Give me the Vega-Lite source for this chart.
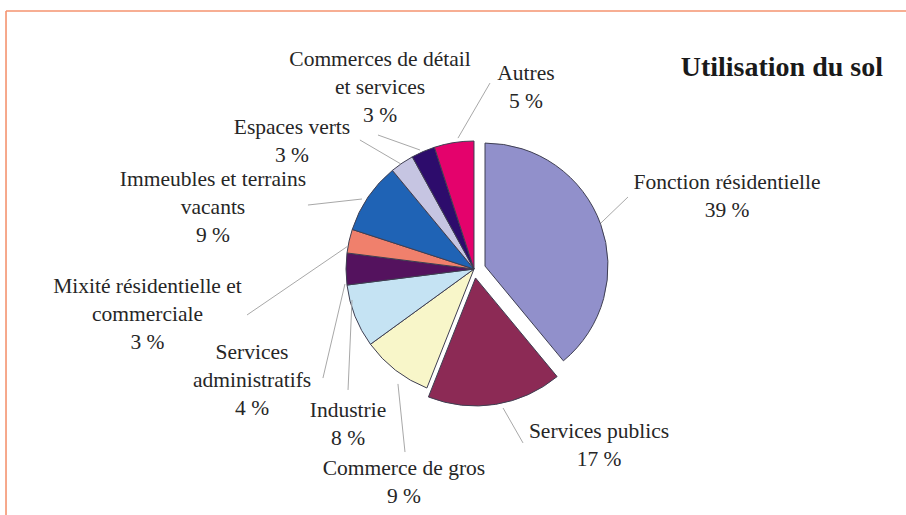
{
  "$schema": "https://vega.github.io/schema/vega-lite/v6.json",
  "width": 906,
  "height": 515,
  "autosize": {"type": "none"},
  "padding": 0,
  "background": "white",
  "config": {
    "view": {"stroke": null},
    "axis": {"disable": true},
    "text": {"font": "Liberation Serif", "fontSize": 21.5, "lineHeight": 28, "align": "center", "baseline": "alphabetic", "color": "#262626"},
    "rule": {"color": "#a8a8a8", "strokeWidth": 1},
    "arc": {"outerRadius": 128, "stroke": "#3f3f52", "strokeWidth": 1}
  },
  "data": {"values": [
    {"id": 1, "category": "Fonction résidentielle", "value": 39, "lines": ["Fonction résidentielle", "39 %"]},
    {"id": 2, "category": "Services publics", "value": 17, "lines": ["Services publics", "17 %"]},
    {"id": 3, "category": "Commerce de gros", "value": 9, "lines": ["Commerce de gros", "9 %"]},
    {"id": 4, "category": "Industrie", "value": 8, "lines": ["Industrie", "8 %"]},
    {"id": 5, "category": "Services administratifs", "value": 4, "lines": ["Services", "administratifs", "4 %"]},
    {"id": 6, "category": "Mixité résidentielle et commerciale", "value": 3, "lines": ["Mixité résidentielle et", "commerciale", "3 %"]},
    {"id": 7, "category": "Immeubles et terrains vacants", "value": 9, "lines": ["Immeubles et terrains", "vacants", "9 %"]},
    {"id": 8, "category": "Espaces verts", "value": 3, "lines": ["Espaces verts", "3 %"]},
    {"id": 9, "category": "Commerces de détail et services", "value": 3, "lines": ["Commerces de détail", "et services", "3 %"]},
    {"id": 10, "category": "Autres", "value": 5, "lines": ["Autres", "5 %"]}
  ]},
  "layer": [
    {
      "mark": {"type": "arc"},
      "encoding": {
        "x": {"datum": 0, "type": "quantitative", "scale": {"domain": [-3.703, 3.375], "nice": false, "zero": false}},
        "y": {"datum": 0, "type": "quantitative", "scale": {"domain": [-1.922, 2.102], "nice": false, "zero": false}},
        "theta": {"field": "value", "type": "quantitative", "stack": true},
        "order": {"field": "id", "type": "quantitative"},
        "color": {"field": "category", "type": "nominal", "legend": null,
          "scale": {
            "domain": ["Fonction résidentielle", "Services publics", "Commerce de gros", "Industrie", "Services administratifs", "Mixité résidentielle et commerciale", "Immeubles et terrains vacants", "Espaces verts", "Commerces de détail et services", "Autres"],
            "range": ["#9190cb", "#8c2a55", "#f8f6c9", "#c5e3f3", "#54125e", "#f0806c", "#1f63b5", "#c6c5e2", "#2d0c6c", "#e4026c"]
          }},
        "opacity": {"condition": {"test": "datum.id <= 2", "value": 0}, "value": 1}
      }
    },
    {
      "mark": {"type": "arc", "outerRadius": 123},
      "encoding": {
        "x": {"datum": 0.086, "type": "quantitative"},
        "y": {"datum": 0.023, "type": "quantitative"},
        "theta": {"field": "value", "type": "quantitative", "stack": true},
        "order": {"field": "id", "type": "quantitative"},
        "color": {"field": "category", "type": "nominal", "legend": null},
        "opacity": {"condition": {"test": "datum.id == 1", "value": 1}, "value": 0}
      }
    },
    {
      "mark": {"type": "arc"},
      "encoding": {
        "x": {"datum": 0.012, "type": "quantitative"},
        "y": {"datum": -0.07, "type": "quantitative"},
        "theta": {"field": "value", "type": "quantitative", "stack": true},
        "order": {"field": "id", "type": "quantitative"},
        "color": {"field": "category", "type": "nominal", "legend": null},
        "opacity": {"condition": {"test": "datum.id == 2", "value": 1}, "value": 0}
      }
    },
    {
      "transform": [{"filter": "datum.id == 1"}],
      "layer": [
        {"mark": "rule", "encoding": {"x": {"datum": 0.992, "type": "quantitative"}, "y": {"datum": 0.36, "type": "quantitative"}, "x2": {"datum": 1.203}, "y2": {"datum": 0.5625}}},
        {"mark": "text", "encoding": {"x": {"datum": 1.977, "type": "quantitative"}, "y": {"datum": 0.625, "type": "quantitative"}, "text": {"field": "lines", "type": "nominal"}}}
      ]
    },
    {
      "transform": [{"filter": "datum.id == 2"}],
      "layer": [
        {"mark": "rule", "encoding": {"x": {"datum": 0.227, "type": "quantitative"}, "y": {"datum": -1.086, "type": "quantitative"}, "x2": {"datum": 0.383}, "y2": {"datum": -1.359}}},
        {"mark": "text", "encoding": {"x": {"datum": 0.977, "type": "quantitative"}, "y": {"datum": -1.32, "type": "quantitative"}, "text": {"field": "lines", "type": "nominal"}}}
      ]
    },
    {
      "transform": [{"filter": "datum.id == 3"}],
      "layer": [
        {"mark": "rule", "encoding": {"x": {"datum": -0.594, "type": "quantitative"}, "y": {"datum": -0.898, "type": "quantitative"}, "x2": {"datum": -0.539}, "y2": {"datum": -1.43}}},
        {"mark": "text", "encoding": {"x": {"datum": -0.547, "type": "quantitative"}, "y": {"datum": -1.609, "type": "quantitative"}, "text": {"field": "lines", "type": "nominal"}}}
      ]
    },
    {
      "transform": [{"filter": "datum.id == 4"}],
      "layer": [
        {"mark": "rule", "encoding": {"x": {"datum": -0.953, "type": "quantitative"}, "y": {"datum": -0.242, "type": "quantitative"}, "x2": {"datum": -0.984}, "y2": {"datum": -0.945}}},
        {"mark": "text", "encoding": {"x": {"datum": -0.984, "type": "quantitative"}, "y": {"datum": -1.156, "type": "quantitative"}, "text": {"field": "lines", "type": "nominal"}}}
      ]
    },
    {
      "transform": [{"filter": "datum.id == 5"}],
      "layer": [
        {"mark": "rule", "encoding": {"x": {"datum": -1.008, "type": "quantitative"}, "y": {"datum": -0.117, "type": "quantitative"}, "x2": {"datum": -1.18}, "y2": {"datum": -0.852}}},
        {"mark": "text", "encoding": {"x": {"datum": -1.734, "type": "quantitative"}, "y": {"datum": -0.703, "type": "quantitative"}, "text": {"field": "lines", "type": "nominal"}}}
      ]
    },
    {
      "transform": [{"filter": "datum.id == 6"}],
      "layer": [
        {"mark": "rule", "encoding": {"x": {"datum": -0.984, "type": "quantitative"}, "y": {"datum": 0.18, "type": "quantitative"}, "x2": {"datum": -1.773}, "y2": {"datum": -0.359}}},
        {"mark": "text", "encoding": {"x": {"datum": -2.551, "type": "quantitative"}, "y": {"datum": -0.1875, "type": "quantitative"}, "text": {"field": "lines", "type": "nominal"}}}
      ]
    },
    {
      "transform": [{"filter": "datum.id == 7"}],
      "layer": [
        {"mark": "rule", "encoding": {"x": {"datum": -0.875, "type": "quantitative"}, "y": {"datum": 0.547, "type": "quantitative"}, "x2": {"datum": -1.297}, "y2": {"datum": 0.5}}},
        {"mark": "text", "encoding": {"x": {"datum": -2.039, "type": "quantitative"}, "y": {"datum": 0.648, "type": "quantitative"}, "text": {"field": "lines", "type": "nominal"}}}
      ]
    },
    {
      "transform": [{"filter": "datum.id == 8"}],
      "layer": [
        {"mark": "rule", "encoding": {"x": {"datum": -0.57, "type": "quantitative"}, "y": {"datum": 0.82, "type": "quantitative"}, "x2": {"datum": -0.891}, "y2": {"datum": 1.008}}},
        {"mark": "text", "encoding": {"x": {"datum": -1.422, "type": "quantitative"}, "y": {"datum": 1.055, "type": "quantitative"}, "text": {"field": "lines", "type": "nominal"}}}
      ]
    },
    {
      "transform": [{"filter": "datum.id == 9"}],
      "layer": [
        {"mark": "rule", "encoding": {"x": {"datum": -0.422, "type": "quantitative"}, "y": {"datum": 0.93, "type": "quantitative"}, "x2": {"datum": -0.75}, "y2": {"datum": 1.047}}},
        {"mark": "text", "encoding": {"x": {"datum": -0.734, "type": "quantitative"}, "y": {"datum": 1.586, "type": "quantitative"}, "text": {"field": "lines", "type": "nominal"}}}
      ]
    },
    {
      "transform": [{"filter": "datum.id == 10"}],
      "layer": [
        {"mark": "rule", "encoding": {"x": {"datum": -0.125, "type": "quantitative"}, "y": {"datum": 1.023, "type": "quantitative"}, "x2": {"datum": 0.125}, "y2": {"datum": 1.453}}},
        {"mark": "text", "encoding": {"x": {"datum": 0.406, "type": "quantitative"}, "y": {"datum": 1.477, "type": "quantitative"}, "text": {"field": "lines", "type": "nominal"}}}
      ]
    },
    {
      "data": {"values": [{"title": "Utilisation du sol"}]},
      "mark": {"type": "text", "align": "right", "fontWeight": "bold", "fontSize": 28, "color": "#1a1a1a"},
      "encoding": {"x": {"datum": 3.195, "type": "quantitative"}, "y": {"datum": 1.508, "type": "quantitative"}, "text": {"field": "title", "type": "nominal"}}
    },
    {
      "data": {"values": [{"frame": "top"}, {"frame": "left"}]},
      "layer": [
        {"transform": [{"filter": "datum.frame == 'top'"}], "mark": {"type": "rule", "color": "#f4936f", "strokeWidth": 1.6}, "encoding": {"x": {"datum": -3.656, "type": "quantitative"}, "x2": {"datum": 3.375}, "y": {"datum": 2.0156, "type": "quantitative"}}},
        {"transform": [{"filter": "datum.frame == 'left'"}], "mark": {"type": "rule", "color": "#f4936f", "strokeWidth": 1.6}, "encoding": {"x": {"datum": -3.656, "type": "quantitative"}, "y": {"datum": 2.0156, "type": "quantitative"}, "y2": {"datum": -1.922}}}
      ]
    }
  ]
}
